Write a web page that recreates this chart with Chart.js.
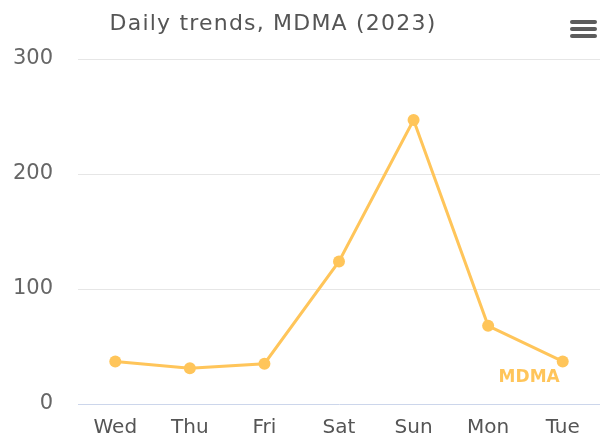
<!DOCTYPE html>
<html>
<head>
<meta charset="utf-8">
<title>Daily trends, MDMA (2023)</title>
<script src="https://cdn.jsdelivr.net/npm/chart.js@4.4.1/dist/chart.umd.min.js"></script>
<style>
    html, body { margin: 0; padding: 0; background: #fff; }
    #wrap { width: 600px; height: 445px; }
</style>
</head>
<body>
<div id="wrap"><canvas id="chart" width="600" height="445"></canvas></div>
<script>
// Chart data
const days = ['Wed', 'Thu', 'Fri', 'Sat', 'Sun', 'Mon', 'Tue'];
const mdmaValues = [37, 31, 35, 124, 247, 68, 37];
const yTicks = [0, 100, 200, 300];
const chartTitle = 'Daily trends, MDMA (2023)';
const seriesName = 'MDMA';

const lineColor = '#ffc55a';
const fontFamily = '"DejaVu Sans", Verdana, sans-serif';

// Title, series label and menu icon
const decorations = {
    id: 'decorations',
    afterDraw: function (chart) {
        const ctx = chart.ctx;
        ctx.save();

        ctx.fillStyle = '#555';
        ctx.font = '22px ' + fontFamily;
        ctx.letterSpacing = '1.2px';
        ctx.textAlign = 'center';
        ctx.textBaseline = 'alphabetic';
        ctx.fillText(chartTitle, 273, 30);
        ctx.letterSpacing = '0px';

        // Series label next to the last point
        const meta = chart.getDatasetMeta(0);
        const last = meta.data[meta.data.length - 1];
        ctx.fillStyle = lineColor;
        ctx.font = 'bold 17px ' + fontFamily;
        ctx.textAlign = 'right';
        ctx.textBaseline = 'middle';
        ctx.fillText(seriesName, last.x - 3, last.y + 16);

        // Hamburger menu
        ctx.strokeStyle = '#5c5c5c';
        ctx.lineWidth = 4;
        ctx.lineCap = 'round';
        [22, 29, 36].forEach(function (y) {
            ctx.beginPath();
            ctx.moveTo(572, y);
            ctx.lineTo(595, y);
            ctx.stroke();
        });

        ctx.restore();
    }
};

new Chart(document.getElementById('chart'), {
    type: 'line',
    data: {
        labels: days,
        datasets: [{
            label: seriesName,
            data: mdmaValues,
            borderColor: lineColor,
            backgroundColor: lineColor,
            borderWidth: 3,
            pointRadius: 6,
            pointHoverRadius: 6,
            pointBorderWidth: 0,
            tension: 0,
            fill: false
        }]
    },
    options: {
        responsive: false,
        animation: false,
        layout: {
            autoPadding: false,
            padding: { top: 59, left: 0, right: 0, bottom: 0 }
        },
        plugins: {
            legend: { display: false },
            title: { display: false },
            tooltip: { enabled: false }
        },
        scales: {
            x: {
                offset: true,
                grid: { display: false, drawTicks: false },
                border: { display: true, color: '#ccd6eb', width: 1 },
                ticks: {
                    color: '#555',
                    font: { family: fontFamily, size: 20 },
                    padding: 12,
                    maxRotation: 0
                },
                afterFit: function (scale) {
                    scale.height = 41;
                    scale.paddingLeft = 0;
                    scale.paddingRight = 0;
                }
            },
            y: {
                min: 0,
                max: 300,
                afterBuildTicks: function (scale) {
                    scale.ticks = yTicks.map(function (v) { return { value: v }; });
                },
                grid: {
                    drawTicks: false,
                    color: function (c) { return c.tick && c.tick.value === 0 ? 'rgba(0,0,0,0)' : '#e6e6e6'; },
                    lineWidth: 1
                },
                border: { display: false },
                ticks: {
                    color: '#666',
                    font: { family: fontFamily, size: 21 },
                    padding: 25
                },
                afterFit: function (scale) { scale.width = 78; }
            }
        }
    },
    plugins: [decorations]
});
</script>
</body>
</html>
